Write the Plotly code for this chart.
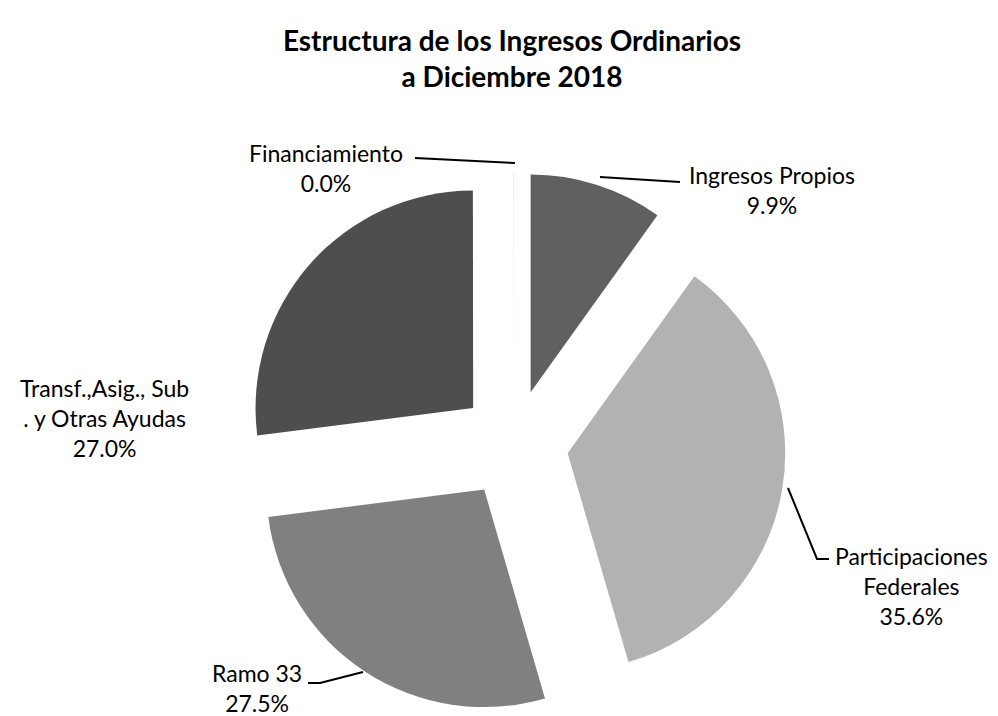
import plotly.graph_objects as go

W, H = 998, 716
OFF = 8  # the page body margin shifts the figure by this many pixels

# data, clockwise from 12 o'clock
labels = ["Ingresos Propios", "Participaciones Federales", "Ramo 33",
          "Transf.,Asig., Sub . y Otras Ayudas", "Financiamiento"]
values = [9.9, 35.6, 27.5, 27.0, 0.02]
shown_pct = ["9.9%", "35.6%", "27.5%", "27.0%", "0.0%"]
label_lines = [["Ingresos Propios"], ["Participaciones", "Federales"], ["Ramo 33"],
               ["Transf.,Asig., Sub", ". y Otras Ayudas"], ["Financiamiento"]]
colors = ["#606060", "#b2b2b2", "#808080", "#4e4e4e", "#bdbdbd"]

# label block centres and leader lines, in screen pixels
label_pos = [(772, 190), (911, 586), (257, 688), (104, 418), (326, 168)]
leaders = [
    [(600, 177), (680, 182)],
    [(788, 488), (817, 559), (829, 559)],
    [(363, 672), (320, 683), (308, 683)],
    None,
    [(415, 158), (515, 163)],
]

FONT = "Lato, 'Open Sans', sans-serif"
FW, FH = W - OFF, H - OFF


def px(x):
    return (x - OFF) / FW


def py(y):
    return 1 - (y - OFF) / FH


cx, cy = 514, 444
half = H - cy
fig = go.Figure(go.Pie(
    labels=labels, values=values, sort=False, direction="clockwise",
    rotation=0, pull=[0.25] * len(values), textinfo="none",
    marker=dict(colors=colors, line=dict(width=0)),
    domain=dict(x=[px(cx - half), px(cx + half)], y=[py(cy + half), py(cy - half)]),
    showlegend=False, hoverinfo="label+value",
))

for lines, pct, (x, y) in zip(label_lines, shown_pct, label_pos):
    fig.add_annotation(
        x=px(x), y=py(y), xref="paper", yref="paper", showarrow=False,
        text="<br>".join(lines + [pct]), align="center",
        xanchor="center", yanchor="middle",
        font=dict(family=FONT, size=23, color="#000000"),
    )

for pts in leaders:
    if not pts:
        continue
    path = "M " + " L ".join(f"{px(x)},{py(y)}" for x, y in pts)
    fig.add_shape(type="path", path=path, xref="paper", yref="paper",
                  line=dict(color="#000000", width=2))

fig.update_layout(
    width=FW, height=FH,
    margin=dict(l=0, r=0, t=0, b=0),
    paper_bgcolor="#ffffff", plot_bgcolor="#ffffff",
    title=dict(text="<b>Estructura de los Ingresos Ordinarios<br>a Diciembre 2018</b>",
               x=px(512), xanchor="center", y=py(51), yanchor="middle",
               font=dict(family=FONT, size=28, color="#000000")),
)

fig.write_html("out.html")
